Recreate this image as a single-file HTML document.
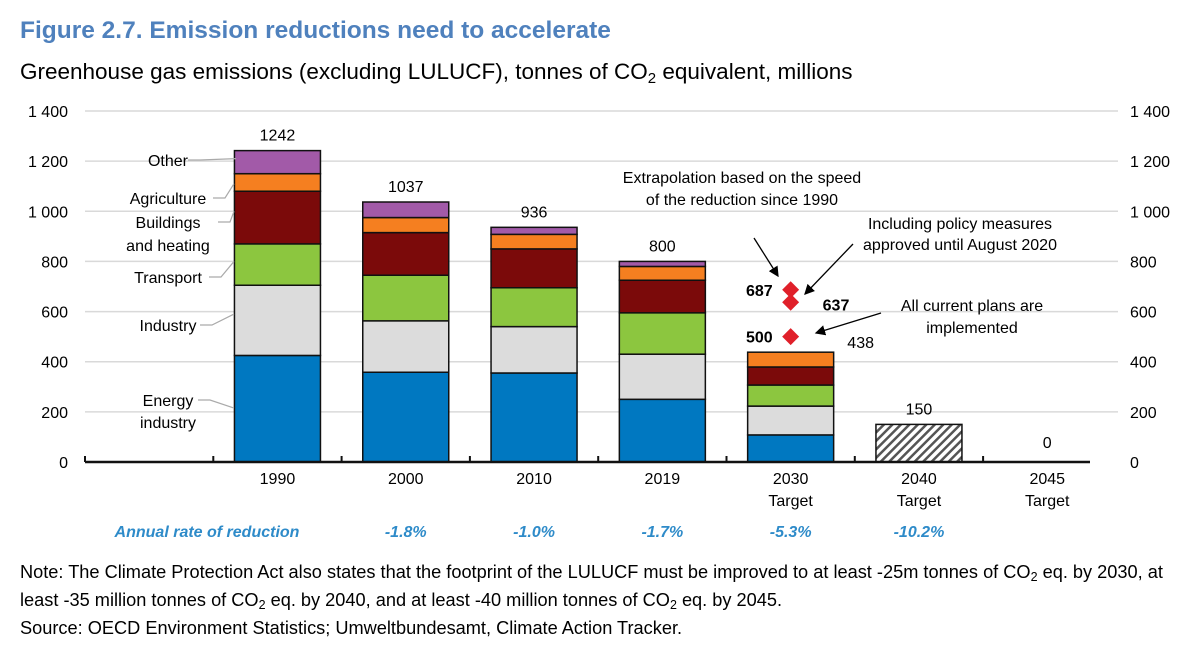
<!DOCTYPE html>
<html><head><meta charset="utf-8"><style>
body{margin:0;background:#fff;width:1200px;height:645px;overflow:hidden;font-family:"Liberation Sans",sans-serif}
svg text{font-family:"Liberation Sans",sans-serif}
</style></head><body>
<svg width="1200" height="645" xmlns="http://www.w3.org/2000/svg">
<defs><pattern id="hatch" width="6" height="6" patternUnits="userSpaceOnUse" patternTransform="rotate(45)"><rect width="6" height="6" fill="#fff"/><rect width="2.5" height="6" fill="#555"/></pattern></defs>
<text x="20" y="38" font-size="24.5" font-weight="bold" fill="#4f81bd">Figure 2.7. Emission reductions need to accelerate</text>
<text x="20" y="79" font-size="22.5" fill="#000">Greenhouse gas emissions (excluding LULUCF), tonnes of CO<tspan font-size="15" dy="4">2</tspan><tspan dy="-4"> equivalent, millions</tspan></text>
<g id="grid"></g><g id="bars"></g><g id="ann"></g>
<text x="20" y="578" font-size="18.2">Note: The Climate Protection Act also states that the footprint of the LULUCF must be improved to at least -25m tonnes of CO<tspan font-size="12.5" dy="3">2</tspan><tspan dy="-3"> eq. by 2030, at</tspan></text>
<text x="20" y="606" font-size="18.2">least -35 million tonnes of CO<tspan font-size="12.5" dy="3">2</tspan><tspan dy="-3"> eq. by 2040, and at least -40 million tonnes of CO</tspan><tspan font-size="12.5" dy="3">2</tspan><tspan dy="-3"> eq. by 2045.</tspan></text>
<text x="20" y="634" font-size="18.2">Source: OECD Environment Statistics; Umweltbundesamt, Climate Action Tracker.</text>
</svg>
<script>
const categories=["","1990","2000","2010","2019","2030","2040","2045"];
const catSub=["","","","","","Target","Target","Target"];
const energy=[0,425,358,355,250,108,0,0];
const industry=[0,280,205,185,180,115,0,0];
const transport=[0,165,182,155,165,84,0,0];
const buildings=[0,210,170,155,130,72,0,0];
const agriculture=[0,70,60,58,55,59,0,0];
const other=[0,92,62,28,20,0,0,0];
const hatched=[0,0,0,0,0,0,150,0];
const totals=["","1242","1037","936","800","438","150","0"];
const rates=["Annual rate of reduction","","-1.8%","-1.0%","-1.7%","-5.3%","-10.2%",""];
const yTicks=[0,200,400,600,800,1000,1200,1400];
const yLabels=["0","200","400","600","800","1 000","1 200","1 400"];
const markers=[687,637,500];
const markerLabels=["687","637","500"];
const NS="http://www.w3.org/2000/svg";
const x0=85,slot=128.3,bw=86,yBase=462,yScale=(1400)/(462-111);
const y=v=>yBase-v/yScale;
const cx=i=>x0+slot*(i+0.5);
function mk(p,t,a){const e=document.createElementNS(NS,t);for(const k in a)e.setAttribute(k,a[k]);p.appendChild(e);return e;}
const grid=document.getElementById('grid'),bars=document.getElementById('bars'),ann=document.getElementById('ann');
yTicks.forEach((v,i)=>{
 if(v>0){const l=mk(grid,'line',{x1:x0,x2:1118,y1:y(v),y2:y(v),stroke:'#d9d9d9','stroke-width':1.5});
 
 }
 const t1=mk(grid,'text',{x:68,y:y(v)+6,'font-size':16,'text-anchor':'end'});t1.textContent=yLabels[i];
 
 
 const t2=mk(grid,'text',{x:1130,y:y(v)+6,'font-size':16});t2.textContent=yLabels[i];
 
 
});
const series=[[energy,'#0078c1','energy'],[industry,'#dcdcdc','industry'],[transport,'#8cc63f','transport'],[buildings,'#7b0a0a','buildings'],[agriculture,'#f57f20','agriculture'],[other,'#a25aa8','other']];
categories.forEach((c,i)=>{
 let acc=0;
 series.forEach(([arr,col,nm])=>{const v=arr[i];if(v>0){
  const r=mk(bars,'rect',{x:cx(i)-bw/2,y:y(acc+v),width:bw,height:v/yScale,fill:col,stroke:'#111','stroke-width':1.5});
  
  
  acc+=v;}});
 if(hatched[i]>0){const r=mk(bars,'rect',{x:cx(i)-bw/2,y:y(hatched[i]),width:bw,height:hatched[i]/yScale,fill:'url(#hatch)',stroke:'#111','stroke-width':1.5});
  
  }
 const tot=Math.max(acc,hatched[i]);
 if(totals[i]){const tx=i==5?cx(i)+70:cx(i);const ty=i==5?y(tot)-4:(i==7?y(tot)-14:y(tot)-10);
  const t=mk(bars,'text',{x:tx,y:ty,'font-size':16,'text-anchor':'middle'});t.textContent=totals[i];
  
  }
 const xl=mk(bars,'text',{x:cx(i),y:484,'font-size':16,'text-anchor':'middle'});xl.textContent=c;
 
 
 if(catSub[i]){const s=mk(bars,'text',{x:cx(i),y:506,'font-size':16,'text-anchor':'middle'});s.textContent=catSub[i];
  
  }
 if(rates[i]){const r=mk(bars,'text',{x:i==0?207:cx(i),y:537,'font-size':16,'font-style':'italic','font-weight':'bold',fill:'#2e8bc9','text-anchor':'middle'});r.textContent=rates[i];
  
  }
});
const ax=mk(bars,'line',{x1:x0,x2:1090,y1:yBase,y2:yBase,stroke:'#111','stroke-width':2.5});


for(let k=0;k<8;k++){const tk=mk(bars,'line',{x1:x0+slot*k,x2:x0+slot*k,y1:yBase,y2:yBase-6,stroke:'#111','stroke-width':2});
 
 }
const mX=[cx(5),cx(5),cx(5)];
markers.forEach((v,k)=>{const d=mk(ann,'rect',{x:mX[k]-6,y:y(v)-6,width:12,height:12,fill:'#e0202a',transform:`rotate(45 ${mX[k]} ${y(v)})`});
 
 
 const lx=k==1?cx(5)+32:cx(5)-18;
 const t=mk(ann,'text',{x:lx,y:y(v)+6+(k==1?2:0),'font-size':16,'font-weight':'bold','text-anchor':k==1?'start':'end'});t.textContent=markerLabels[k];
 
 });
const sl=[["Other",166,188,236,y(1210)],["Agriculture",204,213,234,y(1110)],["Buildings",228,218,234,y(1000)],["and heating",251,null],["Transport",283,209,234,y(800)],["Industry",331,200,234,y(590)],["Energy",406,198,234,y(215)],["industry",428,null]];
sl.forEach(([s,ty,lx,lx2,ly])=>{const t=mk(ann,'text',{x:168,y:ty,'font-size':16,'text-anchor':'middle'});t.textContent=s;
 
 
 if(lx){const l=mk(ann,'polyline',{points:`${lx},${ty-6} ${lx+12},${ty-6} ${lx2},${ly}`,fill:'none',stroke:'#aaa','stroke-width':1.2});
 
 }});
mk(ann,'defs',{}).innerHTML='<marker id="ah" markerWidth="8" markerHeight="8" refX="7" refY="4" orient="auto"><path d="M0,0 L8,4 L0,8z" fill="#000"/></marker>';
[["Extrapolation based on the speed",742,183],["of the reduction since 1990",742,205],["Including policy measures",960,229],["approved until August 2020",960,250],["All current plans are",972,311],["implemented",972,333]].forEach(([s,x,yy])=>{const t=mk(ann,'text',{x:x,y:yy,'font-size':16,'text-anchor':'middle'});t.textContent=s;
 
 });
[[754,238,778,276],[853,244,805,294],[881,313,816,333]].forEach(([a,b,c,d])=>{const l=mk(ann,'line',{x1:a,y1:b,x2:c,y2:d,stroke:'#000','stroke-width':1.3,'marker-end':'url(#ah)'});
 
 });
</script>
</body></html>
